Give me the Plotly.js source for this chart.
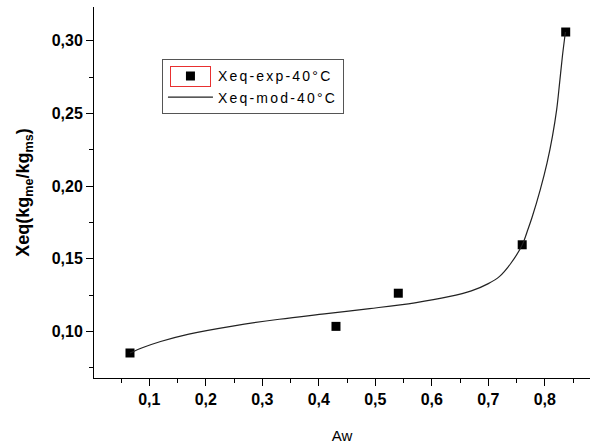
<!DOCTYPE html>
<html>
<head>
<meta charset="utf-8">
<script src="https://cdn.plot.ly/plotly-3.0.1.min.js"></script>
<style>
html,body{margin:0;padding:0;background:#fff;}
#wrap{position:relative;width:590px;height:445px;}
#chart{width:590px;height:445px;}
.legendtext{letter-spacing:2.2px;}
#selbox{position:absolute;left:172px;top:62px;width:40px;height:20px;border:1px solid #e83030;pointer-events:none;box-sizing:border-box;}
</style>
</head>
<body>
<div id="wrap"><div id="chart"></div><div id="selbox"></div></div>
<script>
// Experimental points
const expAw = [0.0658, 0.4304, 0.5407, 0.760, 0.8370];
const expXeq = [0.0853, 0.1036, 0.1264, 0.1597, 0.3060];
// Model curve
const modAw = [0.0658, 0.090, 0.120, 0.170, 0.250, 0.330, 0.410, 0.490, 0.570, 0.630, 0.670, 0.700, 0.720, 0.740, 0.7602, 0.7690, 0.7775, 0.7920, 0.8040, 0.8135, 0.8210, 0.8262, 0.8312, 0.8365];
const modXeq = [0.0853, 0.0892, 0.0932, 0.0983, 0.1040, 0.1085, 0.1122, 0.1158, 0.1198, 0.1240, 0.1280, 0.1330, 0.1380, 0.1470, 0.1597, 0.1690, 0.1786, 0.1976, 0.2160, 0.2343, 0.2526, 0.2710, 0.2895, 0.3060];
const expName = 'Xeq-exp-40°C';
const modName = 'Xeq-mod-40°C';
const xTicks = [0.1, 0.2, 0.3, 0.4, 0.5, 0.6, 0.7, 0.8];
const yTicks = [0.10, 0.15, 0.20, 0.25, 0.30];

const traces = [
  {x: expAw, y: expXeq, name: expName, type: 'scatter', mode: 'markers',
   marker: {symbol: 'square', size: 9, color: '#000'}},
  {x: modAw, y: modXeq, name: modName, type: 'scatter', mode: 'lines',
   line: {color: '#222', width: 1.2, shape: 'spline', smoothing: 1}}
];

const FF = 'Liberation Sans, Arial, sans-serif';
const tickFont = {family: FF, size: 16, color: '#000', weight: 'bold'};
const layout = {
  width: 590, height: 445,
  margin: {l: 94, r: 0, t: 7, b: 67, pad: 0},
  paper_bgcolor: '#fff', plot_bgcolor: '#fff',
  separators: ', ',
  showlegend: true,
  font: {family: FF, color: '#000'},
  xaxis: {
    range: [0.0021, 0.88], tickvals: xTicks, tickformat: '.1f',
    showgrid: false, zeroline: false, showline: true, linecolor: '#000', linewidth: 1,
    ticks: 'outside', ticklen: 7, tickwidth: 1, tickcolor: '#000', tickfont: tickFont,
    minor: {tickvals: [0.05,0.15,0.25,0.35,0.45,0.55,0.65,0.75,0.85], ticks: 'outside', ticklen: 4, tickcolor: '#000', tickwidth: 1},
    title: {text: 'Aw', font: {family: FF, size: 15, color: '#000'}, standoff: 23}
  },
  yaxis: {
    range: [0.0681, 0.3232], tickvals: yTicks, tickformat: '.2f',
    showgrid: false, zeroline: false, showline: true, linecolor: '#000', linewidth: 1,
    ticks: 'outside', ticklen: 7, tickwidth: 1, tickcolor: '#000', tickfont: tickFont,
    minor: {tickvals: [0.075,0.125,0.175,0.225,0.275], ticks: 'outside', ticklen: 4, tickcolor: '#000', tickwidth: 1},
    title: {text: 'Xeq(kg<sub>me</sub>/kg<sub>ms</sub>)', font: {family: FF, size: 18, color: '#000', weight: 'bold'}, standoff: 17}
  },
  legend: {
    x: 0.137, y: 0.859, xanchor: 'left', yanchor: 'top',
    bgcolor: '#fff', bordercolor: '#555', borderwidth: 1,
    font: {family: FF, size: 14, color: '#000'},
    itemwidth: 45, tracegroupgap: 0
  }
};

Plotly.newPlot('chart', traces, layout, {displayModeBar: false, staticPlot: true}).then(function (gd) {
  // place the red selection frame around the first legend symbol
  const pt = gd.querySelector('.legend .traces .legendpoints path');
  const box = document.getElementById('selbox');
  if (pt) {
    const r = pt.getBoundingClientRect();
    const w = document.getElementById('wrap').getBoundingClientRect();
    const cx = r.left + r.width / 2 - w.left, cy = r.top + r.height / 2 - w.top;
    box.style.left = (cx - 20) + 'px';
    box.style.top = (cy - 10) + 'px';
    box.style.width = '41px';
    box.style.height = '21px';
  }
});
</script>
</body>
</html>
